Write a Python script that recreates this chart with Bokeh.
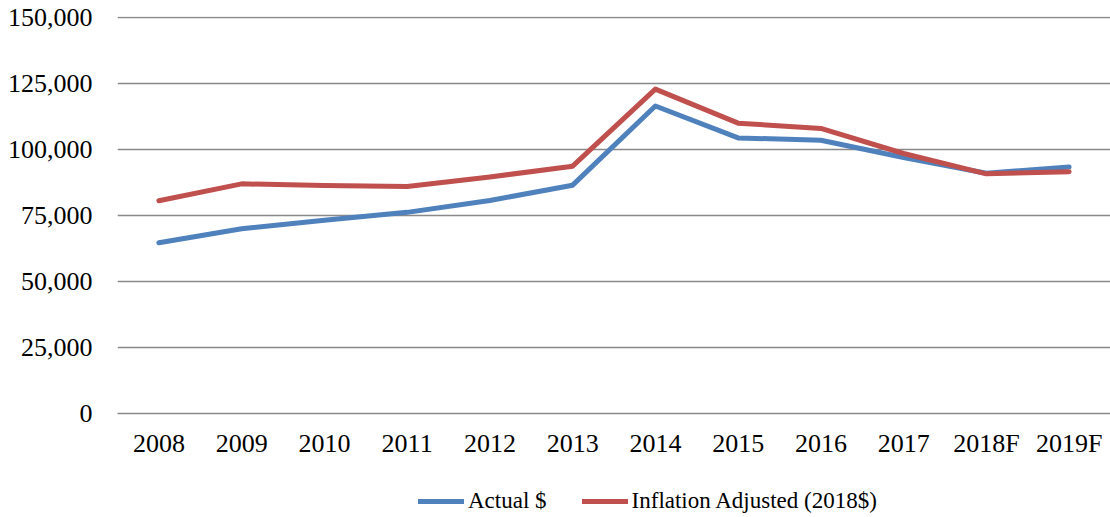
from bokeh.plotting import figure
from bokeh.layouts import column
from bokeh.models import FactorRange, Range1d, FixedTicker, NumeralTickFormatter, Legend, LegendItem
from bokeh.embed import file_html
from bokeh.resources import INLINE

years = ["2008", "2009", "2010", "2011", "2012", "2013", "2014", "2015", "2016", "2017", "2018F", "2019F"]
actual = [64700, 70000, 73200, 76200, 80700, 86500, 116500, 104400, 103500, 97000, 91000, 93400]
inflation_adj = [80600, 87000, 86400, 86000, 89600, 93700, 122900, 110000, 108000, 98500, 90800, 91600]
y_ticks = [0, 25000, 50000, 75000, 100000, 125000, 150000]

FONT = "Liberation Serif"
BLUE = "#4F81BD"
RED = "#C0504D"

p = figure(width=1110, height=460, x_range=FactorRange(*years, range_padding=0),
           y_range=Range1d(0, 150400), output_backend="svg", toolbar_location=None,
           min_border_left=117, min_border_right=0, min_border_top=16, min_border_bottom=44)
p.outline_line_color = None

p.line(years, actual, line_color=BLUE, line_width=5, line_join="round", line_cap="round")
p.line(years, inflation_adj, line_color=RED, line_width=5, line_join="round", line_cap="round")

p.yaxis.ticker = FixedTicker(ticks=y_ticks)
p.yaxis.formatter = NumeralTickFormatter(format="0,0")
p.yaxis.axis_line_color = None
p.yaxis.major_tick_line_color = None
p.yaxis.minor_tick_line_color = None
p.yaxis.major_label_standoff = 19
p.yaxis.major_label_text_font = FONT
p.yaxis.major_label_text_font_size = "26px"
p.yaxis.major_label_text_color = "black"

p.xaxis.axis_line_color = "#898989"
p.xaxis.axis_line_width = 1.5
p.xaxis.major_tick_line_color = None
p.xaxis.minor_tick_line_color = None
p.xaxis.major_label_standoff = 9
p.xaxis.major_label_text_font = FONT
p.xaxis.major_label_text_font_size = "26px"
p.xaxis.major_label_text_color = "black"

p.xgrid.grid_line_color = None
p.ygrid.grid_line_color = "#898989"
p.ygrid.grid_line_width = 1.5
p.ygrid.ticker = FixedTicker(ticks=y_ticks)

# Legend strip below the chart (series lines lie outside its visible range)
lg = figure(width=1110, height=57, x_range=FactorRange(*years, range_padding=0),
            y_range=Range1d(-2000000, -1000000), output_backend="svg", toolbar_location=None,
            min_border_left=0, min_border_right=0, min_border_top=0, min_border_bottom=0)
lg.outline_line_color = None
lg.axis.visible = False
lg.grid.visible = False
g1 = lg.line(years, actual, line_color=BLUE, line_width=5, line_cap="round")
g2 = lg.line(years, inflation_adj, line_color=RED, line_width=5, line_cap="round")

legend = Legend(items=[LegendItem(label="Actual $", renderers=[g1]),
                       LegendItem(label="Inflation Adjusted (2018$)", renderers=[g2])],
                orientation="horizontal", location=(301, 3),
                label_text_font=FONT, label_text_font_size="23px", label_text_color="black",
                glyph_width=46, glyph_height=24, label_standoff=4, spacing=35,
                border_line_color=None, background_fill_alpha=0, padding=0, margin=0)
lg.add_layout(legend, "center")

layout = column(p, lg, spacing=0)
open("out.html", "w").write(file_html(layout, INLINE))
